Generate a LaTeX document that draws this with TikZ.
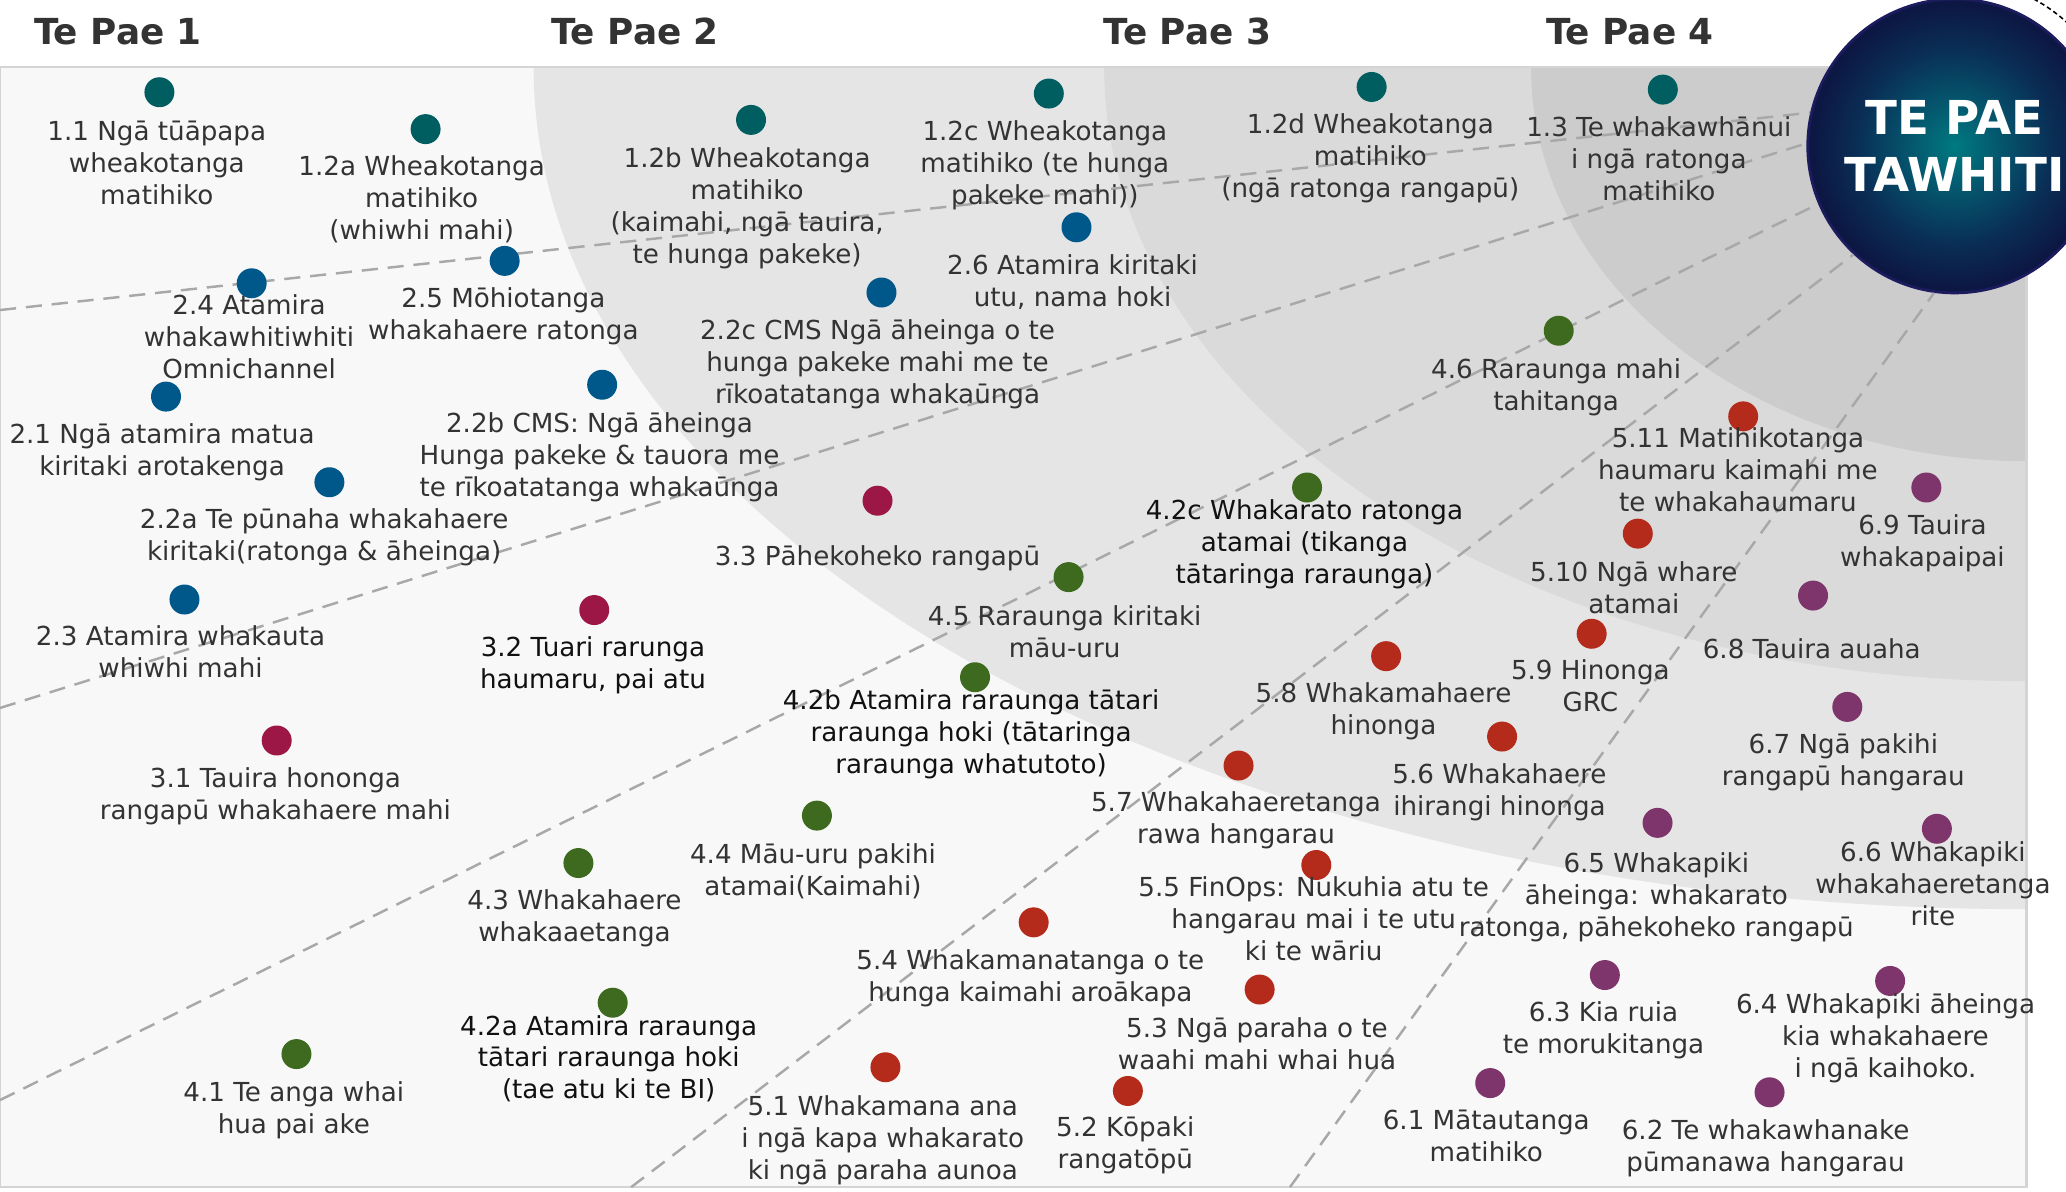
\documentclass[tikz,border=0pt]{standalone}
\usepackage{fontspec}
\setmainfont{DejaVu Sans}
\usepackage{tikz}

\definecolor{inkGrey}{HTML}{333333}
\definecolor{inkBlack}{HTML}{111111}
\definecolor{guideGrey}{HTML}{A8A8A8}
\definecolor{panelRim}{HTML}{D4D4D4}
\definecolor{bandBase}{HTML}{F8F8F8}
\definecolor{bandTwo}{HTML}{E5E5E5}
\definecolor{bandThree}{HTML}{DADADA}
\definecolor{bandFour}{HTML}{CCCCCC}
\definecolor{paeTeal}{HTML}{005E61}
\definecolor{paeBlue}{HTML}{00578A}
\definecolor{paeCrimson}{HTML}{9C1746}
\definecolor{paeGreen}{HTML}{3E6A1F}
\definecolor{paeRed}{HTML}{B52B1B}
\definecolor{paePurple}{HTML}{7E356B}
\definecolor{glowCentre}{HTML}{007A80}
\definecolor{glowMid}{HTML}{05506A}
\definecolor{glowDeep}{HTML}{0A2D55}
\definecolor{glowEdge}{HTML}{0C1843}
\definecolor{glowRim}{HTML}{1B1B5E}

\pgfdeclareradialshading{tawhitiShade}{\pgfpoint{0bp}{0bp}}{color(0bp)=(glowCentre); color(9bp)=(glowMid); color(17bp)=(glowDeep); color(24bp)=(glowEdge); color(50bp)=(glowEdge)}

\newcommand{\labelFont}{\fontsize{7.45}{9.1}\selectfont}
\newcommand{\headFont}{\fontsize{10.2}{12}\selectfont\bfseries}
\newcommand{\tawhitiFont}{\fontsize{13.3}{16}\selectfont\bfseries}

\begin{document}
\begin{tikzpicture}
[x=0.013176cm, y=-0.013176cm,
  pointDecorate/.style={shape=circle,inner sep=0pt,minimum size=0.30cm},
  labelDecorate/.style={anchor=north,align=center,inner sep=0pt,font=\labelFont,text=inkGrey},
  paeHeader/.style={font=\headFont,text=inkGrey},
  guideLine/.style={color=guideGrey,line width=0.7pt,dash pattern=on 4.6pt off 2.8pt},
  ringLine/.style={color=black,line width=0.45pt,dash pattern=on 1.3pt off 0.9pt},
  tawhitiDecorate/.style={shape=circle,minimum size=2.94cm,inner sep=0pt,shade,shading=tawhitiShade,
    draw=glowRim,line width=0.8pt,text=white,align=center,font=\tawhitiFont}]
\useasboundingbox (0,0) rectangle (1568,904);
\clip (0,0) rectangle (1568,904);
%% panel and horizon bands
\fill[white] (0,0) rectangle (1568,904);
\fill[bandBase] (0,51) rectangle (1538,901);
\begin{scope}
  \clip (0,51) rectangle (1538,901);
  \fill[bandTwo] (1538,51) ellipse [x radius=1133, y radius=639];
  \fill[bandThree] (1538,51) ellipse [x radius=700, y radius=466];
  \fill[bandFour] (1538,51) ellipse [x radius=376, y radius=299];
\end{scope}
\draw[color=panelRim,line width=0.6pt] (0.3,51) rectangle (1538,901);
%% headers
\foreach \nodename/\x in {1/89.6, 2/482, 3/901, 4/1237}
{
  \node (pae\nodename) at (\x,24) [paeHeader] {Te Pae \nodename};
}
%% the far horizon
\node (tawhiti) at (1483.5,110.8) [tawhitiDecorate] {TE PAE\\TAWHITI};
\begin{scope}[shift={(tawhiti.center)},x=1cm,y=1cm]
  \draw[ringLine] (75:1.67) arc[start angle=75, end angle=25, radius=1.67];
\end{scope}
%% dashed guides
\coordinate (edge1) at (0,235.3);
\coordinate (edge2) at (0,537.3);
\coordinate (edge3) at (0,834.9);
\coordinate (edge4) at (479,901);
\coordinate (edge5) at (979,901);
\foreach \startnode/\angle in {edge1/167, edge2/179, edge3/203, edge4/227, edge5/262}
{
  \draw[guideLine] (\startnode) -- (tawhiti.\angle);
}
%% points and labels
\foreach \nodename/\x/\y/\lx/\ly/\txt in {
  11/121/70/119/89/{1.1 Ngā tūāpapa\\wheakotanga\\matihiko},
  12a/323/98/320/116/{1.2a Wheakotanga\\matihiko\\(whiwhi mahi)},
  12b/570/91/567/109.5/{1.2b Wheakotanga\\matihiko\\(kaimahi, ngā tauira,\\te hunga pakeke)},
  12c/796/71/793/89/{1.2c Wheakotanga\\matihiko (te hunga\\pakeke mahi))},
  12d/1041/66/1040/84/{1.2d Wheakotanga\\matihiko\\(ngā ratonga rangapū)},
  13/1262/68/1259/86/{1.3 Te whakawhānui\\i ngā ratonga\\matihiko}}
{
  \node (pt\nodename) at (\x,\y) [pointDecorate,fill=paeTeal] {};
  \node (lb\nodename) at (\lx,\ly) [labelDecorate] {\strut\txt};
}
\foreach \nodename/\x/\y/\lx/\ly/\txt in {
  21/126/301/123/319/{2.1 Ngā atamira matua\\kiritaki arotakenga},
  22a/250/366/246/383.5/{2.2a Te pūnaha whakahaere\\kiritaki(ratonga \& āheinga)},
  22b/457/292/455/310.5/{2.2b CMS: Ngā āheinga\\Hunga pakeke \& tauora me\\te rīkoatatanga whakaūnga},
  22c/669/222/666/240/{2.2c CMS Ngā āheinga o te\\hunga pakeke mahi me te\\rīkoatatanga whakaūnga},
  23/140/455/137/472.5/{2.3 Atamira whakauta\\whiwhi mahi},
  24/191/215/189/221.5/{2.4 Atamira\\whakawhitiwhiti\\Omnichannel},
  25/383/198/382/216/{2.5 Mōhiotanga\\whakahaere ratonga},
  26/817/172.5/814/190.5/{2.6 Atamira kiritaki\\utu, nama hoki}}
{
  \node (pt\nodename) at (\x,\y) [pointDecorate,fill=paeBlue] {};
  \node (lb\nodename) at (\lx,\ly) [labelDecorate] {\strut\txt};
}
\foreach \nodename/\x/\y/\lx/\ly/\txt in {
  31/210/562/209/580.5/{3.1 Tauira hononga\\rangapū whakahaere mahi},
  33/666/380/666/411.5/{3.3 Pāhekoheko rangapū}}
{
  \node (pt\nodename) at (\x,\y) [pointDecorate,fill=paeCrimson] {};
  \node (lb\nodename) at (\lx,\ly) [labelDecorate] {\strut\txt};
}
\foreach \nodename/\x/\y/\lx/\ly/\txt in {
  41/225/800/223/818.5/{4.1 Te anga whai\\hua pai ake},
  43/439/655/436/673/{4.3 Whakahaere\\whakaaetanga},
  44/620/619/617/638/{4.4 Māu-uru pakihi\\atamai(Kaimahi)},
  45/811/438/808/457/{4.5 Raraunga kiritaki\\māu-uru},
  46/1183/251/1181/269.5/{4.6 Raraunga mahi\\tahitanga}}
{
  \node (pt\nodename) at (\x,\y) [pointDecorate,fill=paeGreen] {};
  \node (lb\nodename) at (\lx,\ly) [labelDecorate] {\strut\txt};
}
%% labels set in black
\foreach \nodename/\x/\y/\lx/\ly/\clr/\txt in {
  32/451/463/450/481/paeCrimson/{3.2 Tuari rarunga\\haumaru, pai atu},
  42a/465/761/462/768/paeGreen/{4.2a Atamira raraunga\\tātari raraunga hoki\\(tae atu ki te BI)},
  42b/740/514/737/521/paeGreen/{4.2b Atamira raraunga tātari\\raraunga hoki (tātaringa\\raraunga whatutoto)},
  42c/992/370/990/377/paeGreen/{4.2c Whakarato ratonga\\atamai (tikanga\\tātaringa raraunga)}}
{
  \node (pt\nodename) at (\x,\y) [pointDecorate,fill=\clr] {};
  \node (lb\nodename) at (\lx,\ly) [labelDecorate,text=inkBlack] {\strut\txt};
}
\foreach \nodename/\x/\y/\lx/\ly/\txt in {
  51/672/810/670/829/{5.1 Whakamana ana\\i ngā kapa whakarato\\ki ngā paraha aunoa},
  52/856/828/854/845/{5.2 Kōpaki\\rangatōpū},
  53/956/751/954/770/{5.3 Ngā paraha o te\\waahi mahi whai hua},
  54/784.5/700/782/718.5/{5.4 Whakamanatanga o te\\hunga kaimahi aroākapa},
  55/999/656.5/997/663/{5.5 FinOps: Nukuhia atu te\\hangarau mai i te utu\\ki te wāriu},
  56/1140/559/1138/577/{5.6 Whakahaere\\ihirangi hinonga},
  57/940/581/938/598.5/{5.7 Whakahaeretanga\\rawa hangarau},
  58/1052/498/1050/516/{5.8 Whakamahaere\\hinonga},
  59/1208/481/1207/498.5/{5.9 Hinonga\\GRC},
  510/1243/405/1240/423.5/{5.10 Ngā whare\\atamai},
  511/1323/316/1319/322/{5.11 Matihikotanga\\haumaru kaimahi me\\te whakahaumaru}}
{
  \node (pt\nodename) at (\x,\y) [pointDecorate,fill=paeRed] {};
  \node (lb\nodename) at (\lx,\ly) [labelDecorate] {\strut\txt};
}
\foreach \nodename/\x/\y/\lx/\ly/\txt in {
  61/1131/822/1128/840/{6.1 Mātautanga\\matihiko},
  62/1343/829/1340/847.5/{6.2 Te whakawhanake\\pūmanawa hangarau},
  63/1218/740/1217/758/{6.3 Kia ruia\\te morukitanga},
  64/1434.5/744.5/1431/751.5/{6.4 Whakapiki āheinga\\kia whakahaere\\i ngā kaihoko.},
  65/1258/624.5/1257/645/{6.5 Whakapiki\\āheinga: whakarato\\ratonga, pāhekoheko rangapū},
  66/1470/629/1467/636/{6.6 Whakapiki\\whakahaeretanga\\rite},
  67/1402/536.5/1399/554/{6.7 Ngā pakihi\\rangapū hangarau},
  68/1376/452/1375/482/{6.8 Tauira auaha},
  69/1462/370/1459/388.5/{6.9 Tauira\\whakapaipai}}
{
  \node (pt\nodename) at (\x,\y) [pointDecorate,fill=paePurple] {};
  \node (lb\nodename) at (\lx,\ly) [labelDecorate] {\strut\txt};
}
\end{tikzpicture}
\end{document}
